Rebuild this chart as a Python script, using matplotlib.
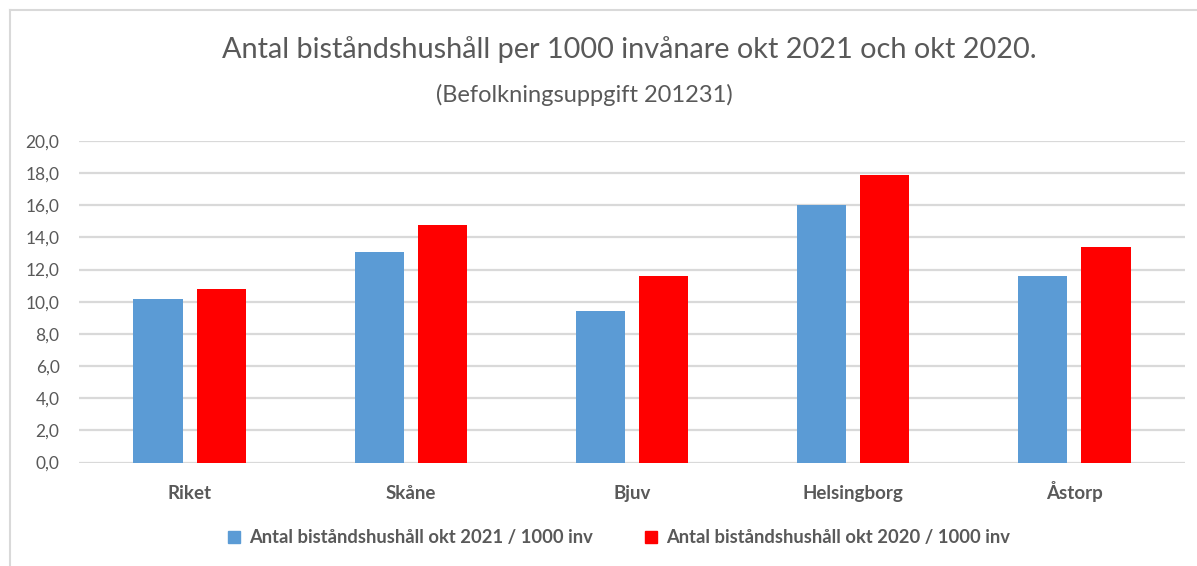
import matplotlib
matplotlib.use("Agg")
import matplotlib.pyplot as plt
from matplotlib.lines import Line2D
import numpy as np

plt.rcParams['font.family'] = ['Lato', 'DejaVu Sans']

categories = ['Riket', 'Skåne', 'Bjuv', 'Helsingborg', 'Åstorp']
okt_2021 = [10.2, 13.1, 9.4, 16.0, 11.6]
okt_2020 = [10.8, 14.8, 11.6, 17.9, 13.4]
series_names = ['Antal biståndshushåll okt 2021 / 1000 inv',
                'Antal biståndshushåll okt 2020 / 1000 inv']
yticks = np.arange(0, 21, 2)

blue = '#5B9BD5'
red = '#FF0000'
grey = '#595959'
grid = '#D9D9D9'

fig = plt.figure(figsize=(11.97, 5.66), dpi=100)
ax = fig.add_axes([79 / 1197, 1 - 462.5 / 566, 1106 / 1197, 321.5 / 566])

x = np.arange(len(categories))
w = 0.223
off = 0.143
ax.bar(x - off, okt_2021, w, color=blue, label=series_names[0], zorder=3)
ax.bar(x + off, okt_2020, w, color=red, label=series_names[1], zorder=3)

ax.set_xlim(-0.5, len(categories) - 0.5)
ax.set_ylim(0, 20)
ax.set_yticks(yticks)
ax.set_yticklabels([f'{v:.1f}'.replace('.', ',') for v in yticks],
                   fontsize=12.5, color=grey)
ax.set_xticks(x)
ax.set_xticklabels(categories, fontsize=13.5, color=grey, fontweight='bold')
for lbl in ax.get_xticklabels():
    lbl.set_va('baseline')
ax.tick_params(length=0)
ax.tick_params(axis='x', pad=26)
ax.tick_params(axis='y', pad=14)
ax.grid(axis='y', color=grid, linewidth=1.6, zorder=0)
for s in ax.spines.values():
    s.set_visible(False)

fig.text(0.526, 1 - 50 / 566, 'Antal biståndshushåll per 1000 invånare okt 2021 och okt 2020.',
         ha='center', va='center', fontsize=20.8, color=grey)
fig.text(0.488, 1 - 95 / 566, '(Befolkningsuppgift 201231)',
         ha='center', va='center', fontsize=17, color=grey)

handles = [Line2D([], [], marker='s', linestyle='', markersize=9, color=c)
           for c in (blue, red)]
fig.legend(handles, series_names, loc='center', bbox_to_anchor=(0.512, 1 - 538 / 566),
           ncol=2, frameon=False, handletextpad=-0.2, columnspacing=2.2,
           labelcolor=grey, prop={'weight': 'bold', 'size': 13.2})

# chart border (top and left visible)
fig.add_artist(Line2D([10 / 1197, 10 / 1197], [0, 1 - 10 / 566], transform=fig.transFigure,
                      color=grid, linewidth=1.5))
fig.add_artist(Line2D([10 / 1197, 1], [1 - 10 / 566, 1 - 10 / 566], transform=fig.transFigure,
                      color=grid, linewidth=1.5))

fig.savefig('out.png', dpi=100)
